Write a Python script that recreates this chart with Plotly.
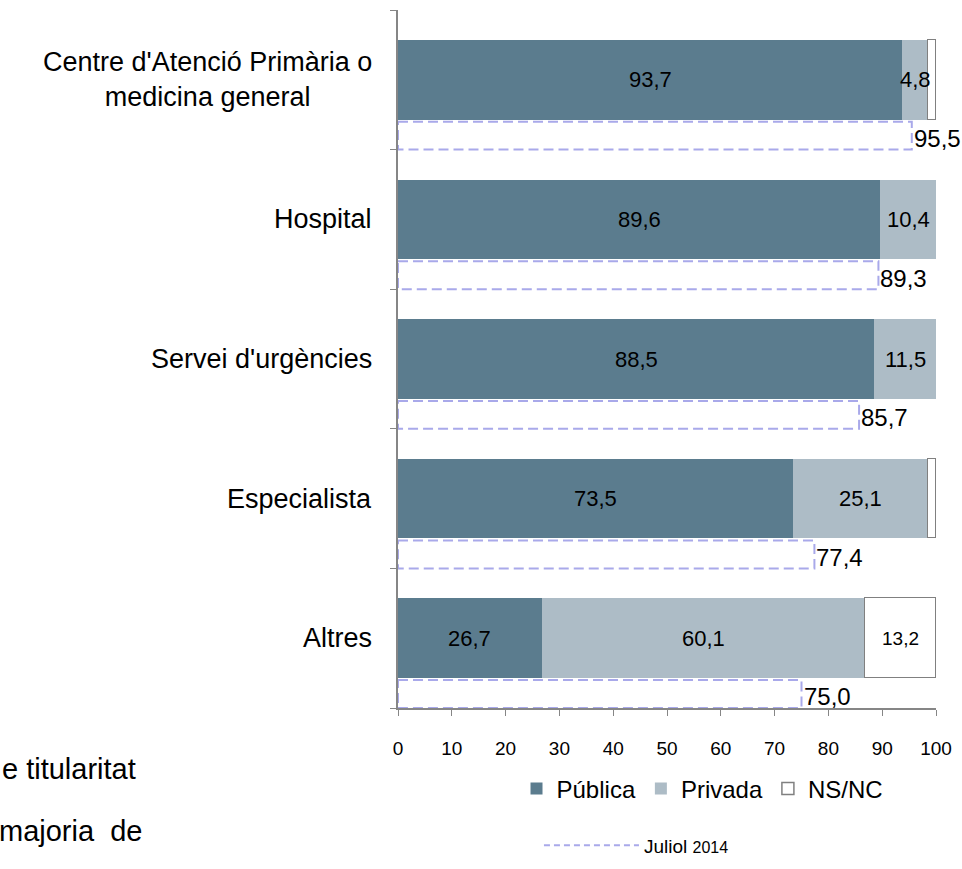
import plotly.graph_objects as go

categories = ["Centre d'Atenció Primària o<br>medicina general", "Hospital",
              "Servei d'urgències", "Especialista", "Altres"]
publica = [93.7, 89.6, 88.5, 73.5, 26.7]
privada = [4.8, 10.4, 11.5, 25.1, 60.1]
nsnc = [1.5, 0.0, 0.0, 1.4, 13.2]
juliol2014 = [95.5, 89.3, 85.7, 77.4, 75.0]
x_ticks = [0, 10, 20, 30, 40, 50, 60, 70, 80, 90, 100]

C_PUB = "#5b7c8e"
C_PRIV = "#adbcc6"
C_DASH = "#a9a9ea"
FONT = "Liberation Sans, Arial, sans-serif"

pos = list(range(len(categories)))
MAIN_W = 0.57

def fmt(v):
    return f"{v:.1f}".replace(".", ",")

fig = go.Figure()
fig.add_trace(go.Bar(y=pos, x=publica, orientation="h", name="Pública", width=MAIN_W,
                     marker=dict(color=C_PUB, line=dict(width=0)), legend="legend"))
fig.add_trace(go.Bar(y=pos, x=privada, orientation="h", name="Privada", width=MAIN_W,
                     marker=dict(color=C_PRIV, line=dict(width=0)), legend="legend"))
fig.add_trace(go.Bar(y=pos, x=[v if v > 0 else None for v in nsnc], orientation="h",
                     name="NS/NC", width=MAIN_W,
                     marker=dict(color="white", line=dict(color="#808080", width=1.5)),
                     legend="legend"))

# dashed outline bars for Juliol 2014
xs, ys = [], []
for k, v in zip(pos, juliol2014):
    y0, y1 = k + 0.3, k + 0.5
    xs += [0, v, v, 0, 0, None]
    ys += [y0, y0, y1, y1, y0, None]
fig.add_trace(go.Scatter(x=xs, y=ys, mode="lines", showlegend=False,
                         line=dict(color=C_DASH, width=2, dash="10px,5px"),
                         hoverinfo="skip"))
# legend entry for Juliol 2014
fig.add_trace(go.Scatter(x=[None], y=[None], mode="lines",
                         name="Juliol <span style='font-size:16px'>2014</span>",
                         line=dict(color=C_DASH, width=2, dash="6px,4px"),
                         legend="legend2"))

annotations = []
# segment labels
for k in pos:
    a, b, c = publica[k], privada[k], nsnc[k]
    annotations.append(dict(x=a / 2, y=k, xref="x", yref="y", text=fmt(a), showarrow=False,
                            font=dict(size=22, color="black", family=FONT)))
    annotations.append(dict(x=a + b / 2, y=k, xref="x", yref="y", text=fmt(b), showarrow=False,
                            font=dict(size=22, color="black", family=FONT)))
    if c >= 5:
        annotations.append(dict(x=a + b + c / 2, y=k, xref="x", yref="y", text=fmt(c), showarrow=False,
                                font=dict(size=19, color="black", family=FONT)))
# Juliol 2014 value labels
for k, v in zip(pos, juliol2014):
    annotations.append(dict(x=v, y=k + 0.42, xref="x", yref="y", text=fmt(v), showarrow=False,
                            xanchor="left", xshift=0,
                            font=dict(size=24, color="black", family=FONT)))
# category labels
for k, cat in zip(pos, categories):
    annotations.append(dict(x=0, y=k, xref="paper", yref="y", text=cat, showarrow=False,
                            xanchor="right", xshift=-24, align="center",
                            font=dict(size=27, color="black", family=FONT)))

fig.update_layout(
    annotations=annotations,
    barmode="stack",
    width=962, height=869,
    margin=dict(l=398, r=26, t=10, b=161, autoexpand=False),
    paper_bgcolor="white", plot_bgcolor="white",
    font=dict(family=FONT, color="black"),
    bargap=0,
    xaxis=dict(range=[0, 100], tickvals=x_ticks, ticktext=[str(t) for t in x_ticks],
               showgrid=False, zeroline=False, showline=True, linecolor="#868686", linewidth=1.5,
               ticks="outside", ticklen=6, tickcolor="#868686", ticklabelstandoff=16,
               tickfont=dict(size=19, family=FONT)),
    yaxis=dict(range=[4.5, -0.5], tickvals=[-0.5, 0.5, 1.5, 2.5, 3.5, 4.5], ticktext=[""] * 6,
               showgrid=False, zeroline=False, showline=True, linecolor="#868686", linewidth=1.5,
               ticks="outside", ticklen=6, tickcolor="#868686"),
    legend=dict(orientation="h", x=0.566, xanchor="center", y=-0.116, yanchor="middle",
                font=dict(size=24, family=FONT), itemwidth=30, traceorder="normal",
                bgcolor="rgba(0,0,0,0)"),
    legend2=dict(orientation="h", x=0.262, xanchor="left", y=-0.197, yanchor="middle",
                 font=dict(size=19, family=FONT), itemwidth=95, bgcolor="rgba(0,0,0,0)"),
    showlegend=True,
)

# cut-off text fragments on the left of the page
fig.add_annotation(x=0, y=-0.088, xref="paper", yref="paper", text="e titularitat", showarrow=False,
                   xanchor="left", xshift=-398, yanchor="middle", font=dict(size=29, family=FONT))
fig.add_annotation(x=0, y=-0.176, xref="paper", yref="paper", text="majoria  de", showarrow=False,
                   xanchor="left", xshift=-401, yanchor="middle", font=dict(size=29, family=FONT))

fig.write_html("out.html", config={"displayModeBar": False},
               post_script="document.body.style.margin='0';")
